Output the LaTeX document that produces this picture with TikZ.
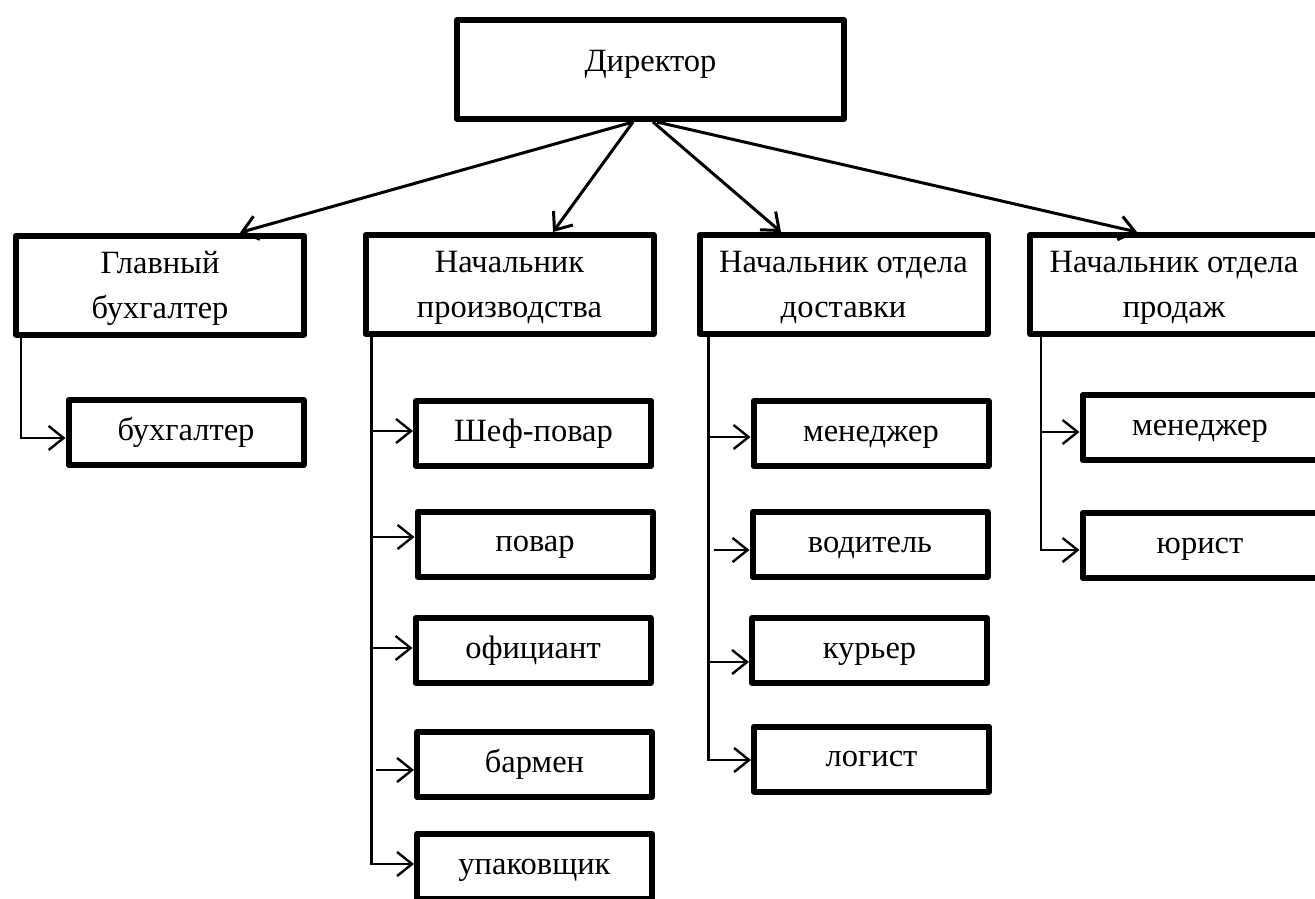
\documentclass[tikz,border=0pt]{standalone}
\usepackage{fontspec}
\setmainfont{Liberation Serif}
\usetikzlibrary{arrows.meta}

\begin{document}
\begin{tikzpicture}[x=1pt,y=-1pt,>={Straight Barb[length=15pt,width=24pt]},
  box/.style={draw,line width=6pt,line join=round,inner sep=0pt,align=center,
    font=\fontsize{32.5}{45}\selectfont},
  head/.style={box,minimum width=288pt,minimum height=99pt,text depth=0pt},
  staff/.style={box,minimum width=235pt,minimum height=65pt,text height=22pt,text depth=7pt},
  link/.style={line width=3pt},
  trunk/.style={line width=2.4pt}]
  \clip (0,0) rectangle (1315,898);
  \node[box,minimum width=387pt,minimum height=99pt,text depth=18pt] (dir) at (650.5,69.5) {Директор};

  \node[head]  (gb)    at (160,285)    {Главный\\бухгалтер};
  \node[head]  (pr)    at (509.5,284.5) {Начальник\\производства};
  \node[head]  (dost)  at (843.5,284.5) {Начальник отдела\\доставки};
  \node[head]  (prod)  at (1174,284.5)  {Начальник отдела\\продаж};

  \node[staff] (buh)   at (186,432.5)   {бухгалтер};

  \node[staff] (shef)  at (533.5,433.5) {Шеф-повар};
  \node[staff] (povar) at (535,544)     {повар};
  \node[staff] (ofic)  at (533,650.5)   {официант};
  \node[staff] (barm)  at (534.5,764.5) {бармен};
  \node[staff] (upak)  at (534.5,866.5) {упаковщик};

  \node[staff] (men)   at (871,433.5)   {менеджер};
  \node[staff] (vod)   at (870,544.5)   {водитель};
  \node[staff] (kur)   at (869.5,650.5) {курьер};
  \node[staff] (log)   at (871.5,759)   {логист};

  \node[staff] (smen)  at (1200,427.5)  {менеджер};
  \node[staff] (yur)   at (1200,545.5)  {юрист};

  \path[link,->] ([xshift=-17.5pt]dir.south) edge ([xshift=80pt]gb.north);
  \path[link,->] ([xshift=-17.5pt]dir.south) edge ([xshift=43.5pt]pr.north);
  \path[link,->] ([xshift=2.5pt]dir.south)   edge ([xshift=-62.5pt]dost.north);
  \path[link,->] ([xshift=6.5pt]dir.south)   edge ([xshift=-37pt]prod.north);

  % trunks
  \coordinate (gt) at ([xshift=8pt]gb.south west);
  \coordinate (pt) at ([xshift=9pt]pr.south west);
  \coordinate (dt) at ([xshift=12pt]dost.south west);
  \coordinate (st) at ([xshift=14pt]prod.south west);

  \draw[trunk,->] (gt) |- ([yshift=-5.5pt]buh.west);

  \draw[trunk,->] (pt) |- ([yshift=2.5pt]upak.west);
  \draw[trunk,->] ([yshift=2.5pt]shef.west -| pt) -- ([yshift=2.5pt]shef.west);
  \draw[trunk,->] ([yshift=7pt]povar.west -| pt) -- ([yshift=7pt]povar.west);
  \draw[trunk,->] ([yshift=2.5pt]ofic.west -| pt) -- ([yshift=2.5pt]ofic.west);
  \draw[trunk,->] ([xshift=4pt,yshift=-5.5pt]barm.west -| pt) -- ([yshift=-5.5pt]barm.west);

  \draw[trunk,->] (dt) |- ([yshift=-1pt]log.west);
  \draw[trunk,->] ([yshift=-3.5pt]men.west -| dt) -- ([yshift=-3.5pt]men.west);
  \draw[trunk,->] ([xshift=5pt,yshift=-5.5pt]vod.west -| dt) -- ([yshift=-5.5pt]vod.west);
  \draw[trunk,->] ([yshift=-11.5pt]kur.west -| dt) -- ([yshift=-11.5pt]kur.west);

  \draw[trunk,->] (st) |- ([yshift=-4.5pt]yur.west);
  \draw[trunk,->] ([yshift=-4.5pt]smen.west -| st) -- ([yshift=-4.5pt]smen.west);
\end{tikzpicture}
\end{document}
